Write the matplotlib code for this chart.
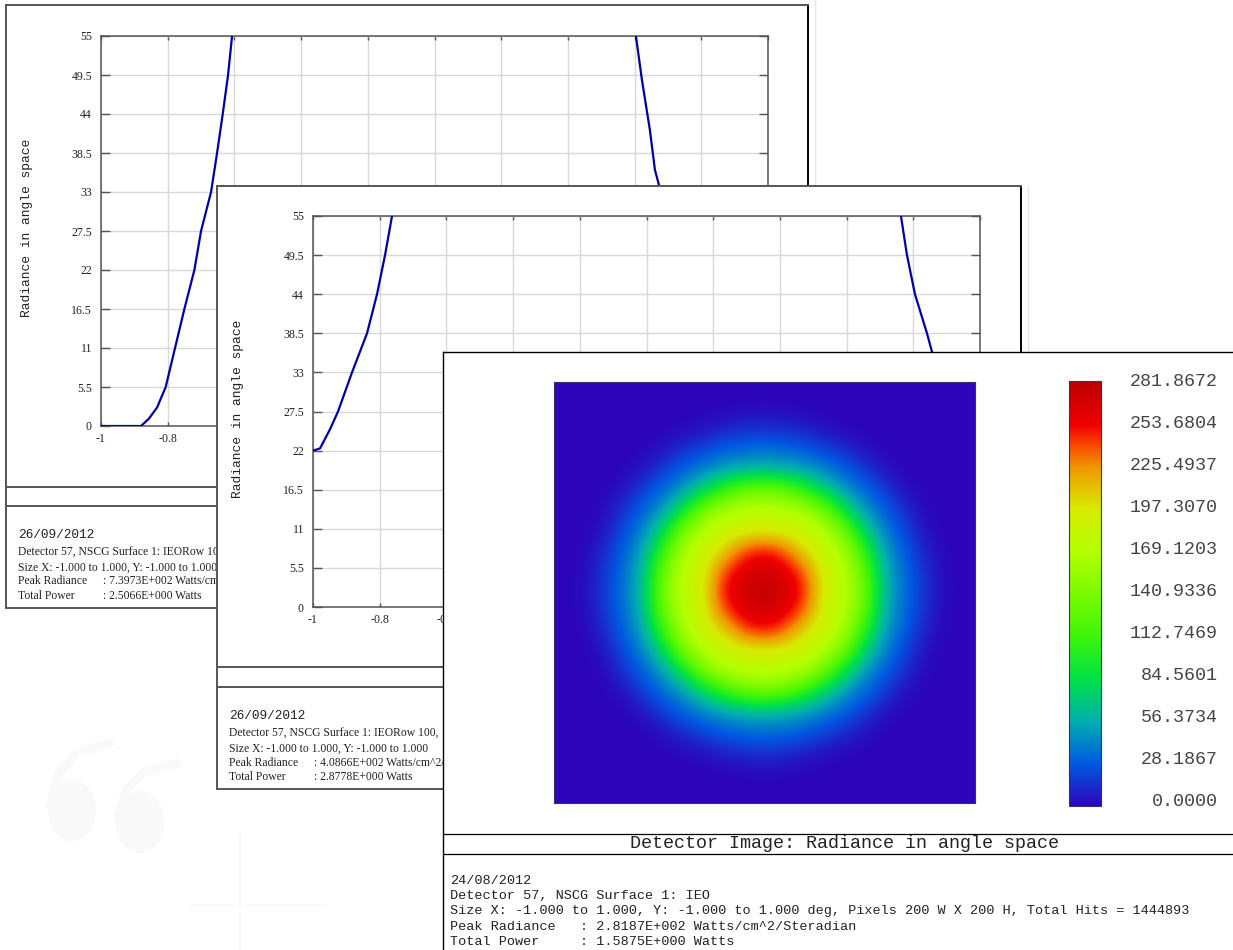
from __future__ import annotations

import numpy as np
from matplotlib import colors
from matplotlib import pyplot as plt
from matplotlib.patches import Ellipse

W, H = 1233, 950
MONO = "Liberation Mono"
SERIF = "Liberation Serif"
GRAY = "#555555"
INK = "#222222"

x_ticks = [-1, -0.8, -0.6, -0.4, -0.2, 0, 0.2, 0.4, 0.6, 0.8, 1]
x_labels = ["-1", "-0.8", "-0.6", "-0.4", "-0.2", "0", "0.2", "0.4", "0.6", "0.8", "1"]
# only these show on the back plot, the rest sit under the middle sheet
back_x_labels = ["-1", "-0.8", "", "", "", "", "", "", "", "", ""]
y_ticks = [0, 5.5, 11, 16.5, 22, 27.5, 33, 38.5, 44, 49.5, 55]
y_labels = ["0", "5.5", "11", "16.5", "22", "27.5", "33", "38.5", "44", "49.5", "55"]

# first plot, curve leaves the top of the axes so there are two branches
back_left_x = [-1, -0.88, -0.857, -0.832, -0.806, -0.778, -0.75, -0.72, -0.70, -0.67, -0.652, -0.635, -0.619, -0.607]
back_left_y = [0, 0, 1, 2.6, 5.5, 11, 16.5, 22, 27.5, 33, 38.5, 44, 49.5, 55]
back_right_x = [0.604, 0.622, 0.646, 0.661, 0.673]
back_right_y = [55, 48.8, 41.7, 36.1, 34]

# second plot
mid_left_x = [-1, -0.979, -0.949, -0.925, -0.883, -0.838, -0.808, -0.784, -0.763]
mid_left_y = [22, 22.3, 25, 27.5, 33, 38.5, 44, 49.5, 55]
mid_right_x = [0.763, 0.781, 0.805, 0.841, 0.856]
mid_right_y = [55, 49.5, 44, 38.5, 35.9]

# radiance, one quadrant from the centre outwards
radiance_quadrant = [
    [282, 268, 252, 192, 175, 140, 62, 36, 15, 2, 0],
    [268, 262, 238, 190, 172, 132, 59, 34, 14, 1, 0],
    [252, 238, 204, 183, 163, 108, 52, 30, 10, 0, 0],
    [192, 190, 183, 168, 140, 76, 42, 22, 4, 0, 0],
    [175, 172, 163, 140, 86, 50, 31, 14, 1, 0, 0],
    [140, 132, 108, 76, 50, 34, 19, 4, 0, 0, 0],
    [62, 59, 52, 42, 31, 19, 5, 0, 0, 0, 0],
    [36, 34, 30, 22, 14, 4, 0, 0, 0, 0, 0],
    [15, 14, 10, 4, 1, 0, 0, 0, 0, 0, 0],
    [2, 1, 0, 0, 0, 0, 0, 0, 0, 0, 0],
    [0, 0, 0, 0, 0, 0, 0, 0, 0, 0, 0],
]
radiance_max = 281.8672
colorbar_labels = [
    "281.8672", "253.6804", "225.4937", "197.3070", "169.1203", "140.9336",
    "112.7469", "84.5601", "56.3734", "28.1867", "0.0000",
]

cmap_levels = [0, 28, 56, 84, 112, 140, 169, 197, 225, 240, 253, 282]
cmap_colors = [
    "#2d05bc", "#005ae1", "#00afaf", "#00e146", "#3cf50a", "#78fa00",
    "#b4ff00", "#d7eb00", "#f09600", "#fa4600", "#f00000", "#b90000",
]

back_notes = [
    "Detector 57, NSCG Surface 1: IEORow 100, ",
    "Size X: -1.000 to 1.000, Y: -1.000 to 1.000",
]
mid_notes = [
    "Detector 57, NSCG Surface 1: IEORow 100, ",
    "Size X: -1.000 to 1.000, Y: -1.000 to 1.000",
]
front_notes = [
    "24/08/2012",
    "Detector 57, NSCG Surface 1: IEO",
    "Size X: -1.000 to 1.000, Y: -1.000 to 1.000 deg, Pixels 200 W X 200 H, Total Hits = 1444893",
    "Peak Radiance   : 2.8187E+002 Watts/cm^2/Steradian",
    "Total Power     : 1.5875E+000 Watts",
]

fig = plt.figure(figsize=(W / 100, H / 100), dpi=100, facecolor="white")


def px_axes(x0, y0, x1, y1, zorder):
    return fig.add_axes([x0 / W, 1 - y1 / H, (x1 - x0) / W, (y1 - y0) / H], zorder=zorder)


def make_panel(x0, y0, x1, y1, zorder, edge=GRAY, lw=1.4):
    # white sheet in pixel coordinates, it covers whatever lies below
    ax = px_axes(x0, y0, x1, y1, zorder)
    ax.set_xlim(x0, x1)
    ax.set_ylim(y1, y0)
    ax.set_xticks([])
    ax.set_yticks([])
    for spine in ax.spines.values():
        spine.set_color(edge)
        spine.set_linewidth(lw)
    ax.spines["right"].set_color("black")
    return ax


def plot_sheet(box, plot_box, rules, notes, date, peak, power, zorder, curves, labels):
    sheet = make_panel(*box, zorder)
    x0 = box[0]
    for y in rules:
        sheet.plot([box[0], box[2]], [y, y], color=GRAY, lw=1.4)

    note_font = {"family": SERIF, "fontsize": 8.4, "va": "center", "color": INK}
    sheet.text(x0 + 12, rules[1] + 29, date, family=MONO, fontsize=9.2, va="center", color=INK)
    for i, note in enumerate(notes):
        sheet.text(x0 + 12, rules[1] + 47 + 14.5 * i, note, **note_font)
    y_peak = rules[1] + 61
    sheet.text(x0 + 12, y_peak + 14.5, "Peak Radiance", **note_font)
    sheet.text(x0 + 97, y_peak + 14.5, f": {peak} Watts/cm^2/", **note_font)
    sheet.text(x0 + 12, y_peak + 29, "Total Power", **note_font)
    sheet.text(x0 + 97, y_peak + 29, f": {power} Watts", **note_font)
    sheet.text(x0 + 21, (plot_box[1] + plot_box[3]) / 2 - 3, "Radiance in angle space", family=MONO,
               fontsize=9.4, rotation=90, ha="center", va="center", color=INK)

    ax = px_axes(*plot_box, zorder + 1)
    for xs, ys in curves:
        ax.plot(xs, ys, color="#0000a8", lw=1.6, zorder=5)
    ax.set_xlim(-1, 1)
    ax.set_ylim(0, 55)
    ax.set_xticks(x_ticks, labels, family=SERIF, fontsize=8.6, color=INK)
    ax.set_yticks(y_ticks, y_labels, family=SERIF, fontsize=8.6, color=INK)
    ax.tick_params(axis="x", direction="in", length=3, width=1, top=True, color=GRAY, pad=5)
    ax.tick_params(axis="y", direction="in", length=6.5, width=1, right=True, color=GRAY, pad=6.5)
    ax.grid(color="#d8d8d8", lw=1)
    ax.set_axisbelow(True)
    for spine in ax.spines.values():
        spine.set_color(GRAY)
        spine.set_linewidth(1.1)


# background: faint watermark and the shadow lines next to the sheets
bg = px_axes(0, 0, W, H, -1)
bg.set_xlim(0, W)
bg.set_ylim(H, 0)
bg.axis("off")
bg.plot([815, 815], [0, 186], color="#e8e8e8", lw=1)
bg.plot([1028, 1028], [186, 352], color="#e8e8e8", lw=1)
mark = "#f9f9f9"
bg.add_patch(Ellipse((72, 810), 48, 62, color=mark, lw=0))
bg.add_patch(Ellipse((140, 822), 48, 62, color=mark, lw=0))
bg.plot([50, 58, 76, 110], [805, 775, 753, 743], color=mark, lw=6)
bg.plot([118, 126, 144, 177], [817, 790, 772, 763], color=mark, lw=6)
bg.plot([240, 240], [835, 950], color=mark, lw=1.5)
bg.plot([190, 325], [905, 905], color=mark, lw=1.5)

plot_sheet(
    (6, 5, 808, 608), (101, 36, 768, 426), (487, 506), back_notes, "26/09/2012",
    "7.3973E+002", "2.5066E+000", 1,
    [(back_left_x, back_left_y), (back_right_x, back_right_y)], back_x_labels,
)
plot_sheet(
    (217, 186, 1021, 789), (313, 216, 980, 607), (667, 687), mid_notes, "26/09/2012",
    "4.0866E+002", "2.8778E+000", 10,
    [(mid_left_x, mid_left_y), (mid_right_x, mid_right_y)], x_labels,
)

# front sheet with the detector image
front = make_panel(443, 352, W, H, 20, edge="black", lw=1.0)
front.spines["right"].set_visible(False)
front.spines["bottom"].set_visible(False)
for y in (834, 854):
    front.plot([443, W], [y, y], color="black", lw=0.9)
front.text(844, 844, "Detector Image: Radiance in angle space", family=MONO, fontsize=13.2,
           ha="center", va="center", color=INK)
for i, note in enumerate(front_notes):
    front.text(450, 881 + 15.2 * i, note, family=MONO, fontsize=9.7, va="center", color=INK)
for i, label in enumerate(colorbar_labels):
    front.text(1218, 382 + 42 * i, label, family=MONO, fontsize=13.2, ha="right", va="center", color="#444444")

quadrant = np.array(radiance_quadrant, dtype=float)
top = np.hstack([quadrant[:, :0:-1], quadrant])
radiance = np.vstack([top[:0:-1], top])

cmap = colors.LinearSegmentedColormap.from_list(
    "zemax", [(v / cmap_levels[-1], c) for v, c in zip(cmap_levels, cmap_colors)], N=512
)
img_ax = px_axes(554, 382, 975, 803, 21)
img_ax.set_facecolor(cmap_colors[0])
# spot sits a pixel or two left of and above the middle of the frame
im = img_ax.imshow(
    radiance, cmap=cmap, vmin=0, vmax=radiance_max, extent=(-1.007, 0.993, -0.99, 1.01),
    origin="lower", aspect="auto", interpolation="bicubic",
)
img_ax.set_xlim(-1, 1)
img_ax.set_ylim(-1, 1)
img_ax.set_xticks([])
img_ax.set_yticks([])
for spine in img_ax.spines.values():
    spine.set_color("#333366")
    spine.set_linewidth(0.8)

cax = px_axes(1069, 381, 1101, 806, 21)
cb = fig.colorbar(im, cax=cax)
cb.set_ticks([])
cb.outline.set_edgecolor("#333366")
cb.outline.set_linewidth(0.8)

fig.savefig("out.png", dpi=100)
